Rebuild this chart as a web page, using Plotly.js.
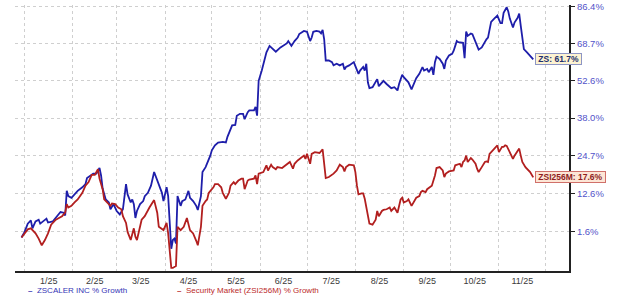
<!DOCTYPE html>
<html><head><meta charset="utf-8">
<script src="https://cdn.plot.ly/plotly-3.0.1.min.js"></script>
<style>html,body{margin:0;padding:0;background:#fff;}#chart{width:620px;height:299px;}</style>
</head><body><div id="chart"></div>
<script>
const zsDates = ['2024-12-30','2025-01-01','2025-01-03','2025-01-05','2025-01-06','2025-01-08','2025-01-10','2025-01-11','2025-01-15','2025-01-16',
'2025-01-19','2025-01-22','2025-01-24','2025-01-26','2025-01-27','2025-01-28','2025-01-29','2025-01-31','2025-02-02','2025-02-04',
'2025-02-07','2025-02-09','2025-02-10','2025-02-12','2025-02-14','2025-02-16','2025-02-18','2025-02-19','2025-02-20','2025-02-22',
'2025-02-24','2025-02-25','2025-02-27','2025-02-28','2025-03-01','2025-03-03','2025-03-05','2025-03-07','2025-03-08','2025-03-10',
'2025-03-11','2025-03-12','2025-03-13','2025-03-14','2025-03-16','2025-03-18','2025-03-19','2025-03-21','2025-03-23','2025-03-25',
'2025-03-27','2025-03-28','2025-03-30','2025-03-31','2025-04-02','2025-04-03','2025-04-05','2025-04-06','2025-04-07','2025-04-08',
'2025-04-09','2025-04-11','2025-04-12','2025-04-14','2025-04-16','2025-04-17','2025-04-19','2025-04-21','2025-04-22','2025-04-24',
'2025-04-25','2025-04-27','2025-04-28','2025-04-30','2025-05-01','2025-05-03','2025-05-05','2025-05-08','2025-05-10','2025-05-11',
'2025-05-14','2025-05-16','2025-05-17','2025-05-19','2025-05-21','2025-05-22','2025-05-24','2025-05-25','2025-05-28','2025-05-29',
'2025-05-30','2025-05-31','2025-06-02','2025-06-04','2025-06-05','2025-06-07','2025-06-09','2025-06-11','2025-06-14','2025-06-16',
'2025-06-18','2025-06-19','2025-06-21','2025-06-23','2025-06-25','2025-06-26','2025-06-29','2025-07-01','2025-07-03','2025-07-04',
'2025-07-05','2025-07-07','2025-07-09','2025-07-10','2025-07-11','2025-07-12','2025-07-13','2025-07-15','2025-07-17','2025-07-18',
'2025-07-20','2025-07-22','2025-07-24','2025-07-25','2025-07-26','2025-07-28','2025-07-31','2025-08-01','2025-08-03','2025-08-04',
'2025-08-06','2025-08-07','2025-08-08','2025-08-09','2025-08-10','2025-08-12','2025-08-14','2025-08-15','2025-08-16','2025-08-18',
'2025-08-19','2025-08-21','2025-08-23','2025-08-24','2025-08-26','2025-08-28','2025-08-29','2025-08-31','2025-09-01','2025-09-03',
'2025-09-04','2025-09-06','2025-09-08','2025-09-09','2025-09-11','2025-09-12','2025-09-13','2025-09-14','2025-09-16','2025-09-17',
'2025-09-19','2025-09-20','2025-09-21','2025-09-22','2025-09-24','2025-09-26','2025-09-27','2025-09-28','2025-09-30','2025-10-02',
'2025-10-03','2025-10-04','2025-10-05','2025-10-06','2025-10-09','2025-10-10','2025-10-11','2025-10-12','2025-10-13','2025-10-14',
'2025-10-15','2025-10-17','2025-10-18','2025-10-19','2025-10-21','2025-10-23','2025-10-24','2025-10-25','2025-10-26','2025-10-27',
'2025-10-29','2025-10-31','2025-11-02','2025-11-03','2025-11-04','2025-11-05','2025-11-06','2025-11-07','2025-11-08','2025-11-10',
'2025-11-11','2025-11-13','2025-11-14','2025-11-15','2025-11-16','2025-11-17','2025-11-19','2025-11-21','2025-11-23'];
const zsGrowth = [0.0,1.5,3.8,4.7,2.5,4.4,4.9,3.8,5.2,4.1,
4.4,5.9,7.1,6.9,6.1,13.4,11.8,11.3,12.3,13.4,
14.5,15.5,17.4,18.2,18.8,18.8,20.6,18.2,14.1,10.8,
9.9,7.9,9.4,8.4,7.4,6.4,7.9,15.5,12.3,9.9,
10.8,9.4,5.4,7.4,9.4,10.3,11.8,12.8,15.0,19.3,
16.6,15.0,12.8,10.3,14.5,11.8,-3.0,-0.7,-0.3,-1.6,
11.8,8.9,10.3,10.8,13.4,11.3,10.3,8.9,7.7,11.8,
19.3,20.9,22.0,24.7,26.5,28.2,29.2,29.4,29.2,31.2,
35.3,35.5,38.9,39.6,39.6,37.6,40.2,40.9,40.9,42.2,
38.9,52.6,56.9,62.7,64.8,67.7,66.5,65.1,67.0,68.0,
68.8,69.9,67.7,69.9,71.5,73.1,74.6,74.2,69.9,71.5,
74.2,74.6,74.3,73.5,75.1,70.7,61.2,61.2,60.5,59.1,
59.8,59.1,59.8,57.3,58.4,59.1,60.5,58.8,55.5,56.9,
58.4,56.9,59.8,52.0,49.6,50.0,52.0,53.3,50.4,52.0,
52.6,51.3,50.4,49.6,50.0,48.7,51.3,55.1,54.1,52.6,
52.0,49.1,52.6,53.7,55.5,56.9,58.4,56.9,57.6,56.2,
58.4,55.1,60.5,62.9,61.9,59.8,57.6,61.2,63.4,64.1,
65.5,67.7,69.9,69.4,69.1,62.2,74.3,72.3,73.1,73.4,
73.1,69.1,67.0,66.0,67.0,69.9,70.7,71.5,76.2,78.9,
80.5,82.0,78.3,78.3,83.3,84.8,86.1,84.0,80.5,76.2,
78.6,80.9,83.0,77.0,70.7,66.2,64.8,63.4,61.7];

const mktDates = ['2024-12-30','2025-01-01','2025-01-03','2025-01-05','2025-01-08','2025-01-10','2025-01-12','2025-01-14','2025-01-16','2025-01-18',
'2025-01-21','2025-01-23','2025-01-25','2025-01-27','2025-01-28','2025-01-29','2025-01-31','2025-02-02','2025-02-04','2025-02-07',
'2025-02-09','2025-02-11','2025-02-13','2025-02-15','2025-02-17','2025-02-18','2025-02-20','2025-02-21','2025-02-23','2025-02-25',
'2025-02-26','2025-02-28','2025-03-02','2025-03-04','2025-03-05','2025-03-07','2025-03-08','2025-03-10','2025-03-12','2025-03-13',
'2025-03-14','2025-03-16','2025-03-17','2025-03-19','2025-03-20','2025-03-22','2025-03-24','2025-03-25','2025-03-27','2025-03-28',
'2025-03-31','2025-04-02','2025-04-03','2025-04-04','2025-04-05','2025-04-06','2025-04-08','2025-04-09','2025-04-11','2025-04-13',
'2025-04-15','2025-04-17','2025-04-19','2025-04-21','2025-04-22','2025-04-24','2025-04-25','2025-04-27','2025-04-28','2025-04-29',
'2025-05-02','2025-05-03','2025-05-05','2025-05-07','2025-05-08','2025-05-10','2025-05-12','2025-05-13','2025-05-15','2025-05-16',
'2025-05-18','2025-05-20','2025-05-21','2025-05-22','2025-05-24','2025-05-25','2025-05-28','2025-05-29','2025-05-30','2025-05-31',
'2025-06-03','2025-06-05','2025-06-06','2025-06-08','2025-06-09','2025-06-11','2025-06-12','2025-06-15','2025-06-17','2025-06-18',
'2025-06-20','2025-06-22','2025-06-23','2025-06-25','2025-06-27','2025-06-29','2025-06-30','2025-07-01','2025-07-03','2025-07-04',
'2025-07-06','2025-07-08','2025-07-09','2025-07-11','2025-07-12','2025-07-13','2025-07-15','2025-07-17','2025-07-18','2025-07-20',
'2025-07-22','2025-07-24','2025-07-25','2025-07-26','2025-07-28','2025-07-31','2025-08-01','2025-08-02','2025-08-03','2025-08-05',
'2025-08-06','2025-08-07','2025-08-09','2025-08-10','2025-08-12','2025-08-14','2025-08-15','2025-08-16','2025-08-18','2025-08-19',
'2025-08-21','2025-08-23','2025-08-24','2025-08-26','2025-08-28','2025-08-30','2025-08-31','2025-09-01','2025-09-03','2025-09-04',
'2025-09-06','2025-09-08','2025-09-09','2025-09-11','2025-09-12','2025-09-13','2025-09-15','2025-09-16','2025-09-18','2025-09-19',
'2025-09-21','2025-09-22','2025-09-24','2025-09-26','2025-09-27','2025-09-28','2025-09-30','2025-10-02','2025-10-03','2025-10-04',
'2025-10-06','2025-10-07','2025-10-08','2025-10-09','2025-10-10','2025-10-11','2025-10-12','2025-10-13','2025-10-14','2025-10-15',
'2025-10-17','2025-10-18','2025-10-19','2025-10-21','2025-10-23','2025-10-24','2025-10-25','2025-10-26','2025-10-28','2025-10-29',
'2025-10-31','2025-11-01','2025-11-03','2025-11-04','2025-11-05','2025-11-06','2025-11-08','2025-11-09','2025-11-10','2025-11-11',
'2025-11-13','2025-11-14','2025-11-15','2025-11-16','2025-11-18','2025-11-19','2025-11-21','2025-11-23'];
const mktGrowth = [0.0,1.1,2.2,2.5,1.1,-0.3,-2.1,-0.7,1.1,3.5,
4.9,5.4,5.9,6.9,9.4,8.4,8.9,9.9,10.8,12.8,
15.0,16.1,18.4,18.4,20.2,17.2,13.9,10.8,9.9,8.9,
9.6,9.4,8.4,7.9,5.9,4.0,1.5,-0.7,2.5,0.2,
-0.7,3.5,4.9,5.9,6.9,8.4,9.9,10.6,6.9,2.9,
2.0,4.0,1.1,-3.4,-7.9,-7.9,-7.4,2.9,2.0,2.9,
5.4,2.0,1.1,-0.9,-2.1,2.9,8.9,10.3,10.8,12.8,
14.5,15.5,15.5,14.5,12.8,11.0,12.8,15.0,16.1,15.5,
16.6,17.2,17.2,13.9,16.6,16.9,17.2,18.2,15.5,18.8,
19.3,21.5,19.8,21.7,20.9,20.2,20.9,20.6,21.5,22.0,
22.6,20.4,22.0,23.1,23.9,24.7,23.6,25.3,22.0,25.3,
25.9,25.6,25.6,26.8,21.5,17.4,17.7,18.4,18.8,19.8,
21.7,20.9,19.5,20.9,21.7,21.5,19.3,15.0,12.3,12.6,
12.6,11.0,5.9,3.8,3.5,4.9,7.4,5.9,7.4,7.7,
7.9,8.4,7.4,8.4,6.9,10.8,11.3,9.9,10.3,10.8,
8.9,10.3,11.3,11.8,13.0,13.4,13.0,13.9,14.5,15.0,
18.2,20.6,20.9,19.8,17.7,18.8,19.5,19.8,19.8,21.5,
21.7,22.0,20.9,22.6,23.1,24.7,22.6,23.1,23.9,23.4,
22.0,20.4,19.3,20.9,22.6,22.8,22.6,25.3,26.5,27.3,
28.2,25.9,27.7,27.7,28.2,28.0,25.9,24.7,23.6,24.7,
26.5,27.1,24.7,22.6,20.9,20.4,19.3,17.6];

const seriesNames = ['ZSCALER INC % Growth', 'Security Market (ZSI256M) % Growth'];
const seriesShort = ['ZS', 'ZSI256M'];
const monthStarts = ['2025-01-01','2025-02-01','2025-03-01','2025-04-01','2025-05-01','2025-06-01','2025-07-01','2025-08-01','2025-09-01','2025-10-01','2025-11-01','2025-12-01'];
const monthLabelDates = ['2025-01-16 12:00','2025-02-15','2025-03-16 12:00','2025-04-16','2025-05-16 12:00','2025-06-16','2025-07-16 12:00','2025-08-16 12:00','2025-09-16','2025-10-16 12:00','2025-11-16'];
const monthLabels = ['1/25','2/25','3/25','4/25','5/25','6/25','7/25','8/25','9/25','10/25','11/25'];
const yTickGrowth = [1.6, 12.6, 24.7, 38.0, 52.6, 68.7, 86.4];

const toFactor = g => 1 + g / 100;
const blue = '#1e1eaa', red = '#b21f1f';
const font = 'Liberation Sans, Arial, sans-serif';
const grid = '#cfcfcf';

const traces = [
  {x: zsDates, y: zsGrowth.map(toFactor), type: 'scatter', mode: 'lines', name: seriesNames[0],
   line: {color: blue, width: 1.8}},
  {x: mktDates, y: mktGrowth.map(toFactor), type: 'scatter', mode: 'lines', name: seriesNames[1],
   line: {color: red, width: 1.8}}
];

const lastZs = zsGrowth[zsGrowth.length - 1];
const lastMkt = mktGrowth[mktGrowth.length - 1];
const nb = '\u00a0';

const layout = {
  width: 620, height: 299,
  margin: {l: 15, r: 51, t: 5, b: 28},
  paper_bgcolor: '#fff', plot_bgcolor: '#fff',
  showlegend: false,
  hovermode: false,
  font: {family: font},
  xaxis: {
    type: 'date',
    range: ['2024-12-25 20:00', '2025-12-15 22:00'],
    tickmode: 'array', tickvals: monthLabelDates, ticktext: monthLabels,
    ticks: '', showgrid: false, zeroline: false,
    showline: true, linecolor: '#222', linewidth: 2,
    tickfont: {size: 9, color: '#3a3a3a', family: font},
    minor: {tickmode: 'array', tickvals: monthStarts, showgrid: true, gridcolor: grid, griddash: 'dot', gridwidth: 1, ticks: ''}
  },
  yaxis: {
    type: 'log', side: 'right',
    range: [-0.03934, 0.27244],
    tickmode: 'array', tickvals: yTickGrowth.map(toFactor), ticktext: yTickGrowth.map(v => v.toFixed(1) + '%'),
    showgrid: true, gridcolor: grid, griddash: 'dot', gridwidth: 1,
    showline: true, linecolor: '#222', linewidth: 2,
    ticks: 'outside', ticklen: 4, tickwidth: 1, tickcolor: '#222',
    tickfont: {size: 9.5, color: '#5353c9', family: font},
    zeroline: false
  },
  annotations: [
    {x: zsDates[zsDates.length - 1], y: Math.log10(toFactor(lastZs)), xref: 'x', yref: 'y',
     text: '<b>' + nb + seriesShort[0] + ': ' + lastZs.toFixed(1) + '%' + nb + '</b>',
     showarrow: false, xanchor: 'left', yanchor: 'middle', xshift: 2,
     bgcolor: '#fdf3d2', bordercolor: '#8d95c4', borderwidth: 1, borderpad: 0,
     font: {size: 8.5, color: '#23306e', family: font}},
    {x: mktDates[mktDates.length - 1], y: Math.log10(toFactor(lastMkt)), xref: 'x', yref: 'y',
     text: '<b>' + nb + seriesShort[1] + ': ' + lastMkt.toFixed(1) + '%' + nb + '</b>',
     showarrow: false, xanchor: 'left', yanchor: 'middle', xshift: 2,
     bgcolor: '#fde6d6', bordercolor: '#d0706a', borderwidth: 1, borderpad: 0,
     font: {size: 8.5, color: '#8e1c1c', family: font}},
    {xref: 'paper', yref: 'paper', x: 0.0205, y: -0.072, xanchor: 'left', yanchor: 'middle',
     text: '<b>–</b>' + nb + nb + seriesNames[0], showarrow: false,
     font: {size: 8, color: '#3535b5', family: font}},
    {xref: 'paper', yref: 'paper', x: 0.2887, y: -0.072, xanchor: 'left', yanchor: 'middle',
     text: '<b>–</b>' + nb + nb + seriesNames[1], showarrow: false,
     font: {size: 8, color: '#bb2a2a', family: font}}
  ]
};

Plotly.newPlot('chart', traces, layout, {displayModeBar: false, staticPlot: true});
</script>
</body></html>
